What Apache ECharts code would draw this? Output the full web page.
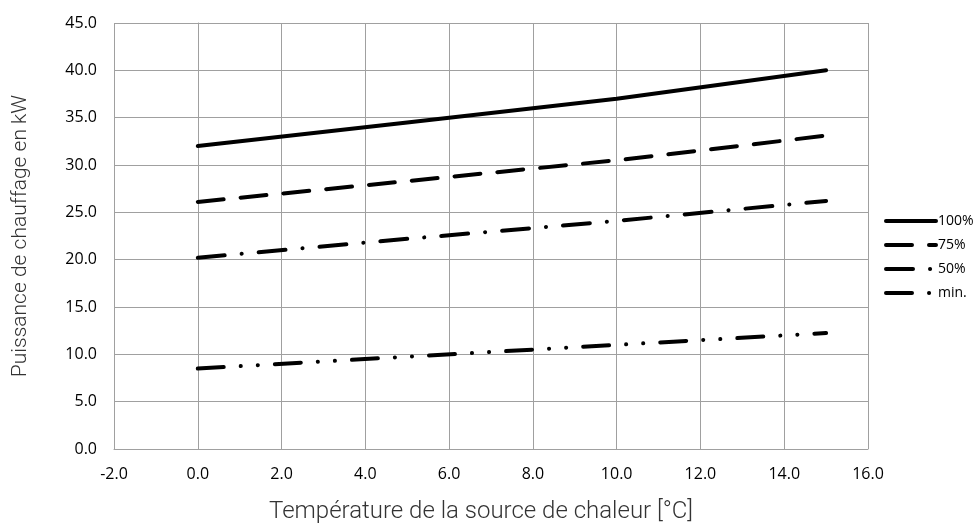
<!DOCTYPE html>
<html>
<head>
<meta charset="utf-8">
<script src="https://cdn.jsdelivr.net/npm/echarts@6/dist/echarts.min.js"></script>
<style>
  html, body { margin: 0; padding: 0; background: #fff; }
  #chart { width: 976px; height: 526px; }
</style>
</head>
<body>
<div id="chart"></div>
<script>
// source temperature (°C)
const temps = [0, 5, 10, 15]
// heating power in kW for each load level
const p100 = [32.0, 34.5, 37.0, 40.0]
const p75 = [26.1, 28.3, 30.5, 33.1]
const p50 = [20.2, 22.2, 24.1, 26.2]
const pMin = [8.5, 9.75, 11.0, 12.25]
const seriesNames = ['100%', '75%', '50%', 'min.']

const gridColor = '#a0a0a0'
const tickFont = 'Open Sans'

const toPairs = (ys) => temps.map((t, i) => [t, ys[i]])

const lineSeries = (name, ys, dash) => ({
  name,
  type: 'line',
  data: toPairs(ys),
  showSymbol: false,
  symbol: 'none',
  lineStyle: { color: '#000', width: 4, type: dash, cap: 'round' },
  itemStyle: { color: '#000' },
  emphasis: { disabled: true },
})

const chart = echarts.init(document.getElementById('chart'))
chart.setOption({
  animation: false,
  grid: { left: 114, top: 23, width: 754, height: 426, outerBoundsMode: 'none' },
  legend: {
    orient: 'vertical',
    left: 879,
    top: 209,
    itemWidth: 50,
    itemHeight: 14,
    itemGap: 10,
    data: seriesNames,
    itemStyle: { opacity: 0 },
    lineStyle: { width: 4 },
    textStyle: { color: '#000', fontSize: 14, fontFamily: tickFont, padding: [0, 0, 0, -3] },
  },
  xAxis: {
    type: 'value',
    min: -2,
    max: 16,
    interval: 2,
    name: 'Température de la source de chaleur [°C]',
    nameLocation: 'middle',
    nameGap: 51,
    nameTextStyle: {
      fontFamily: 'Roboto', fontWeight: 300, fontSize: 24, color: '#333',
      padding: [0, 20, 0, 0],
    },
    axisLine: { lineStyle: { color: gridColor } },
    axisTick: { show: false },
    axisLabel: {
      color: '#000',
      fontSize: 16,
      fontFamily: tickFont,
      margin: 17,
      formatter: (v) => v.toFixed(1),
    },
    splitLine: { show: true, lineStyle: { color: gridColor } },
  },
  yAxis: {
    type: 'value',
    min: 0,
    max: 45,
    interval: 5,
    name: 'Puissance de chauffage en kW',
    nameLocation: 'middle',
    nameGap: 83,
    nameTextStyle: {
      fontFamily: 'Roboto', fontWeight: 300, fontSize: 21, color: '#333',
    },
    axisLine: { show: true, lineStyle: { color: gridColor } },
    axisTick: { show: false },
    axisLabel: {
      color: '#000',
      fontSize: 16,
      fontFamily: tickFont,
      margin: 17,
      formatter: (v) => v.toFixed(1),
    },
    splitLine: { show: true, lineStyle: { color: gridColor } },
  },
  series: [
    lineSeries(seriesNames[0], p100, 'solid'),
    lineSeries(seriesNames[1], p75, [26, 17]),
    lineSeries(seriesNames[2], p50, [27, 17, 0.1, 17]),
    lineSeries(seriesNames[3], pMin, [26, 17, 0.1, 17, 0.1, 17]),
  ],
})
</script>
</body>
</html>
